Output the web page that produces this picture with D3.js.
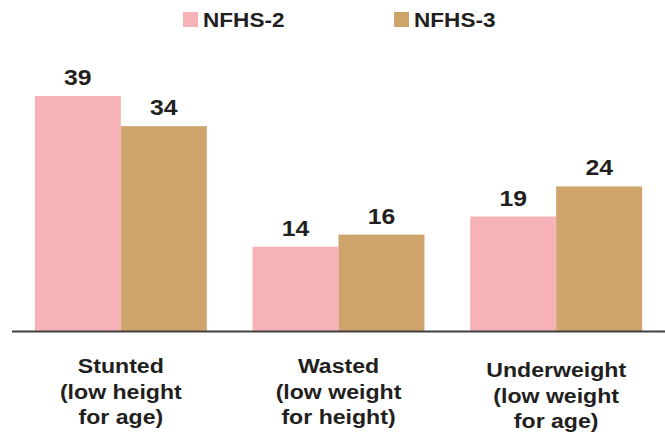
<!DOCTYPE html>
<html>
<head>
<meta charset="utf-8">
<script src="https://cdn.jsdelivr.net/npm/d3@7/dist/d3.min.js"></script>
<style>
  html, body { margin: 0; padding: 0; background: #fff; }
  svg text { font-family: "Liberation Sans", Arial, Helvetica, sans-serif; font-weight: bold; fill: #231f20; }
</style>
</head>
<body>
<svg id="chart" width="665" height="438"></svg>
<script>
// Nutritional status of children: NFHS-2 vs NFHS-3 (%)
const categories = [
  ["Stunted", "(low height", "for age)"],
  ["Wasted", "(low weight", "for height)"],
  ["Underweight", "(low weight", "for age)"]
];
const seriesNames = ["NFHS-2", "NFHS-3"];
const nfhs2 = [39, 14, 19];
const nfhs3 = [34, 16, 24];
const seriesColors = ["#f7b2b7", "#cea46c"];

const values = [nfhs2, nfhs3];
const svg = d3.select("#chart");
const W = 665, H = 438;
const baseY = 331;
const stretch = 1.1;

const x0 = d3.scaleBand()
  .domain(d3.range(categories.length))
  .range([12, W])
  .paddingInner(0.21)
  .paddingOuter(0.105);

const x1 = d3.scaleBand()
  .domain(d3.range(seriesNames.length))
  .range([0, x0.bandwidth()]);

const y = d3.scaleLinear().domain([0, 40]).range([baseY, baseY - 241]);

// bars
const groups = svg.append("g").selectAll("g")
  .data(categories.map((c, i) => i))
  .join("g")
  .attr("transform", i => `translate(${x0(i)},0)`);

groups.selectAll("rect")
  .data(i => seriesNames.map((s, k) => ({ k, v: values[k][i] })))
  .join("rect")
  .attr("x", d => x1(d.k))
  .attr("y", d => y(d.v))
  .attr("width", x1.bandwidth())
  .attr("height", d => y(0) - y(d.v))
  .attr("fill", d => seriesColors[d.k]);

// value labels
groups.selectAll("text.val")
  .data(i => seriesNames.map((s, k) => ({ k, v: values[k][i] })))
  .join("text")
  .attr("class", "val")
  .attr("transform", d => `translate(${x1(d.k) + x1.bandwidth() / 2},${y(d.v) - 11}) scale(${stretch},1)`)
  .attr("text-anchor", "middle")
  .style("font-size", "22.5px")
  .text(d => d.v);

// baseline axis
svg.append("line")
  .attr("x1", 12).attr("x2", W)
  .attr("y1", baseY + 0.5).attr("y2", baseY + 0.5)
  .attr("stroke", "#404040")
  .attr("stroke-width", 2);

// category labels
const lineGap = 25.5;
categories.forEach((lines, i) => {
  const cx = x0(i) + x0.bandwidth() / 2;
  const top = i === 2 ? 377 : 373;
  lines.forEach((t, j) => {
    svg.append("text")
      .attr("transform", `translate(${cx},${top + j * lineGap}) scale(${stretch},1)`)
      .attr("text-anchor", "middle")
      .style("font-size", "21px")
      .text(t);
  });
});

// legend
const legendX = [183, 394];
seriesNames.forEach((name, k) => {
  svg.append("rect")
    .attr("x", legendX[k]).attr("y", 12)
    .attr("width", 15).attr("height", 15)
    .attr("fill", seriesColors[k]);
  svg.append("text")
    .attr("transform", `translate(${legendX[k] + 20},27) scale(1.13,1)`)
    .style("font-size", "20px")
    .text(name);
});
</script>
</body>
</html>
